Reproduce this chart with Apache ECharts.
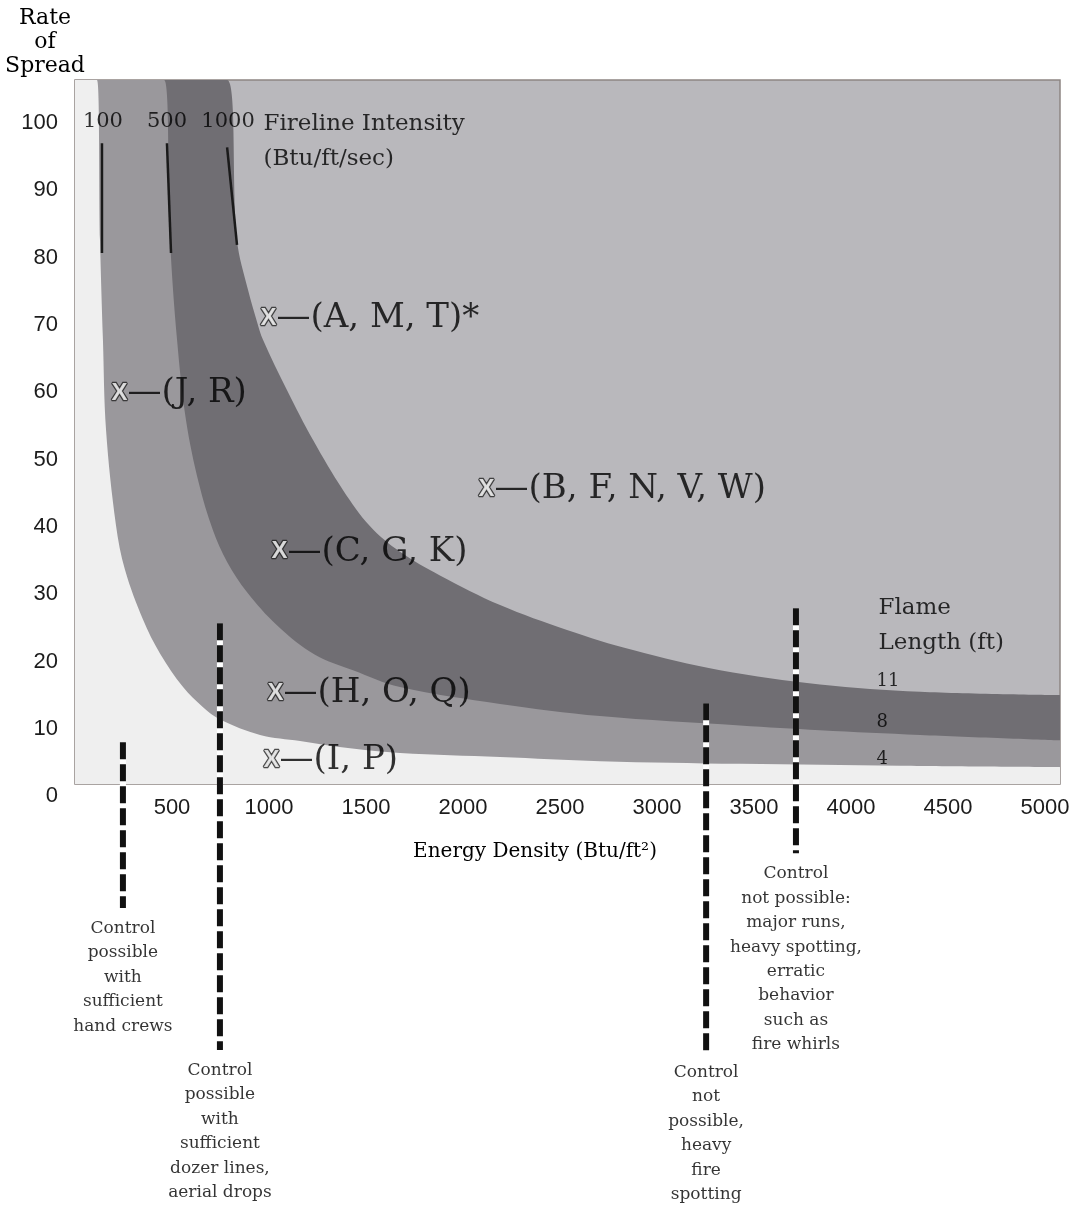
<!DOCTYPE html>
<html>
<head>
<meta charset="utf-8">
<title>Fireline intensity and control chart</title>
<script src="https://cdn.jsdelivr.net/npm/echarts@6/dist/echarts.min.js"></script>
<style>
  html, body { margin: 0; padding: 0; background: #fff; }
  #chart { width: 1076px; height: 1205px; }
</style>
</head>
<body>
<div id="chart"></div>
<script>
// axis extents (energy density 0..X_MAX, rate of spread Y_FLOOR..Y_TOP is the shaded box)
var X_MAX = 5077
var Y_TOP = 106.4
var Y_FLOOR = 1.8
var Y_MIN = -60

// band boundaries: [energy density, rate of spread]
var curve100 = [[113, 106.4], [129, 82.6], [144, 67.8], [160, 54.4], [211, 40.3], [258, 33.6], [351, 26.2],
  [438, 21.2], [557, 16.2], [660, 13.2], [747, 11.4], [954, 9.1], [1160, 8.2], [1418, 7.1], [1675, 6.4],
  [2191, 5.8], [2706, 5.2], [3428, 4.8], [4253, 4.5], [5077, 4.3]]
var curve500 = [[459, 106.4], [490, 82.6], [526, 67.8], [572, 55.9], [639, 46.4], [711, 39.5], [784, 34.8],
  [887, 30.3], [1041, 25.4], [1237, 21.0], [1433, 18.7], [1675, 16.2], [2191, 13.7], [2706, 11.9],
  [3428, 10.5], [3840, 9.8], [4356, 9.1], [5077, 8.3]]
var curve1000 = [[784, 106.4], [835, 82.6], [892, 75.2], [938, 70.5], [969, 67.8], [1093, 60.3], [1227, 52.9],
  [1381, 45.5], [1521, 40.1], [1675, 36.3], [1881, 32.8], [2191, 28.4], [2536, 24.7], [2876, 21.7],
  [3325, 18.7], [3840, 16.6], [4356, 15.5], [5077, 15.0]]

// fireline intensity (Btu/ft/sec) markers at the top
var intensityLabels = ['100', '500', '1000']
var intensityEnergy = [144, 474, 789]
var intensityTicks = [
  [[139, 97.0], [139, 80.7]],
  [[474, 97.0], [495, 80.7]],
  [[784, 96.4], [835, 81.9]]
]

// fuel model groups
var fuelGroups = ['(A, M, T)*', '(J, R)', '(B, F, N, V, W)', '(C, G, K)', '(H, O, Q)', '(I, P)']
var fuelEnergy = [1005, 237, 2129, 1062, 1041, 1021]
var fuelSpread = [71.0, 59.9, 45.6, 36.3, 15.3, 5.3]

// flame length (ft) labels on the right
var flameLengths = ['11', '8', '4']
var flameSpread = [17.0, 10.9, 5.4]

// control limits
var controlEnergy = [247, 747, 3253, 3716]
var controlTop = [8.0, 25.7, 13.8, 27.9]
var controlBottom = [-16.6, -37.7, -38.0, -8.5]
var controlNotes = [
  'Control\npossible\nwith\nsufficient\nhand crews',
  'Control\npossible\nwith\nsufficient\ndozer lines,\naerial drops',
  'Control\nnot\npossible,\nheavy\nfire\nspotting',
  'Control\nnot possible:\nmajor runs,\nheavy spotting,\nerratic\nbehavior\nsuch as\nfire whirls'
]

var SERIF = '"DejaVu Serif", "Liberation Serif", serif'
var SANS = '"Liberation Sans", Arial, sans-serif'
var INK = '#000000'

var chart = echarts.init(document.getElementById('chart'), null, { renderer: 'canvas' })

function band(name, pts, color, z) {
  return {
    name: name,
    type: 'line',
    z: z,
    silent: true,
    smooth: 0.35,
    symbol: 'none',
    lineStyle: { width: 0 },
    areaStyle: { color: color, opacity: 1, origin: Y_FLOOR },
    data: [[0, Y_TOP]].concat(pts)
  }
}

function textMarks(points, texts, label, z) {
  return {
    type: 'scatter',
    z: z || 20,
    silent: true,
    symbolSize: 1,
    itemStyle: { color: 'rgba(0,0,0,0)' },
    data: points.map(function(p, i) { return { value: p, name: texts[i] } }),
    label: Object.assign({ show: true, formatter: function(p) { return p.name } }, label)
  }
}

var series = []

// shaded box
series.push({
  type: 'line', z: 1, silent: true, data: [],
  markArea: {
    silent: true,
    itemStyle: { color: '#b9b8bc' },
    data: [[{ coord: [0, Y_FLOOR] }, { coord: [X_MAX, Y_TOP] }]]
  }
})
series.push(band('1000', curve1000, '#706e73', 2))
series.push(band('500', curve500, '#9a989c', 3))
series.push(band('100', curve100, '#efefef', 4))
series.push({
  type: 'line', z: 5, silent: true, data: [],
  markArea: {
    silent: true,
    itemStyle: { color: 'rgba(0,0,0,0)', borderColor: '#8d8583', borderWidth: 1.5 },
    data: [[{ coord: [0, Y_FLOOR] }, { coord: [X_MAX, Y_TOP] }]]
  }
})

intensityTicks.forEach(function(seg) {
  series.push({
    type: 'line', z: 6, silent: true, symbol: 'none',
    lineStyle: { color: '#1a1a1a', width: 2.5 },
    data: seg
  })
})

controlEnergy.forEach(function(x, i) {
  var seg = [[x, controlTop[i]], [x, controlBottom[i]]]
  series.push({
    type: 'line', z: 7, silent: true, symbol: 'none',
    lineStyle: { color: '#ffffff', width: 6 },
    data: seg
  })
  series.push({
    type: 'line', z: 8, silent: true, symbol: 'none',
    lineStyle: { color: '#111111', width: 6, type: [17, 5] },
    data: seg
  })
})

// fuel group markers
series.push({
  type: 'scatter', z: 20, silent: true, symbolSize: 1,
  itemStyle: { color: 'rgba(0,0,0,0)' },
  data: fuelGroups.map(function(g, i) { return { value: [fuelEnergy[i], fuelSpread[i]], name: g } }),
  label: {
    show: true,
    position: 'right',
    distance: -10,
    formatter: function(p) { return '{m|X}{t|—' + p.name + '}' },
    rich: {
      m: { fontFamily: SANS, fontWeight: 'bold', fontSize: 24, color: '#ffffff', textBorderColor: '#222222', textBorderWidth: 2.5, verticalAlign: 'middle' },
      t: { fontFamily: SERIF, fontSize: 34, color: INK, verticalAlign: 'middle' }
    }
  }
})

// intensity header
series.push(textMarks(intensityEnergy.map(function(x) { return [x, 100.2] }), intensityLabels, {
  position: 'inside', fontFamily: SERIF, fontSize: 21, color: INK
}))
series.push(textMarks([[969, 97.3]], ['Fireline Intensity\n(Btu/ft/sec)'], {
  position: 'right', distance: 0, fontFamily: SERIF, fontSize: 23, lineHeight: 35, color: INK, align: 'left'
}))

// flame length
series.push(textMarks([[4139, 25.4]], ['Flame\nLength (ft)'], {
  position: 'right', distance: 0, fontFamily: SERIF, fontSize: 23, lineHeight: 35, color: INK, align: 'left'
}))
series.push(textMarks(flameSpread.map(function(y) { return [4129, y] }), flameLengths, {
  position: 'right', distance: 0, fontFamily: SERIF, fontSize: 18, color: INK, align: 'left'
}))

// control notes
series.push(textMarks(controlEnergy.map(function(x, i) { return [x, controlBottom[i]] }), controlNotes, {
  position: 'bottom', distance: 8, fontFamily: SERIF, fontSize: 17, lineHeight: 24.4, color: INK, align: 'center'
}))

chart.setOption({
  animation: false,
  backgroundColor: '#ffffff',
  grid: [
    { left: 75, right: 16, top: 80, bottom: 5, containLabel: false, outerBoundsMode: 'none' },
    // thin strip whose lower edge sits on rate of spread = 0, carries the energy density labels
    { left: 75, right: 16, top: 786, height: 10, containLabel: false, outerBoundsMode: 'none' }
  ],
  xAxis: [
    {
      type: 'value', gridIndex: 0, min: 0, max: X_MAX, interval: 500,
      axisLine: { show: false }, axisTick: { show: false }, splitLine: { show: false },
      axisLabel: { show: false }
    },
    {
      type: 'value', gridIndex: 1, min: 0, max: X_MAX, interval: 500, position: 'bottom',
      axisLine: { show: false }, axisTick: { show: false }, splitLine: { show: false },
      axisLabel: {
        margin: 1,
        fontFamily: SANS,
        fontSize: 22,
        color: '#1c1c1c',
        formatter: function(v) { return (v > 0 && v % 500 === 0) ? String(v) : '' }
      }
    }
  ],
  yAxis: [
    {
      type: 'value', gridIndex: 0, min: Y_MIN, max: Y_TOP, interval: 10,
      axisLine: { show: false }, axisTick: { show: false }, splitLine: { show: false },
      axisLabel: {
        margin: 17,
        fontFamily: SANS,
        fontSize: 22,
        color: '#1c1c1c',
        formatter: function(v) { return (v >= 0 && v <= 100 && v % 10 === 0) ? String(v) : '' }
      }
    },
    {
      type: 'value', gridIndex: 1, min: 0, max: 1, show: false
    }
  ],
  graphic: [
    {
      type: 'text', x: 45, y: 6, silent: true,
      style: { text: 'Rate\nof\nSpread', fontFamily: SERIF, fontSize: 22, lineHeight: 24, align: 'center', verticalAlign: 'top', fill: INK }
    },
    {
      type: 'text', x: 535, y: 852, silent: true,
      style: { text: 'Energy Density (Btu/ft²)', fontFamily: SERIF, fontSize: 20, align: 'center', verticalAlign: 'middle', fill: INK }
    }
  ],
  series: series
})
</script>
</body>
</html>
